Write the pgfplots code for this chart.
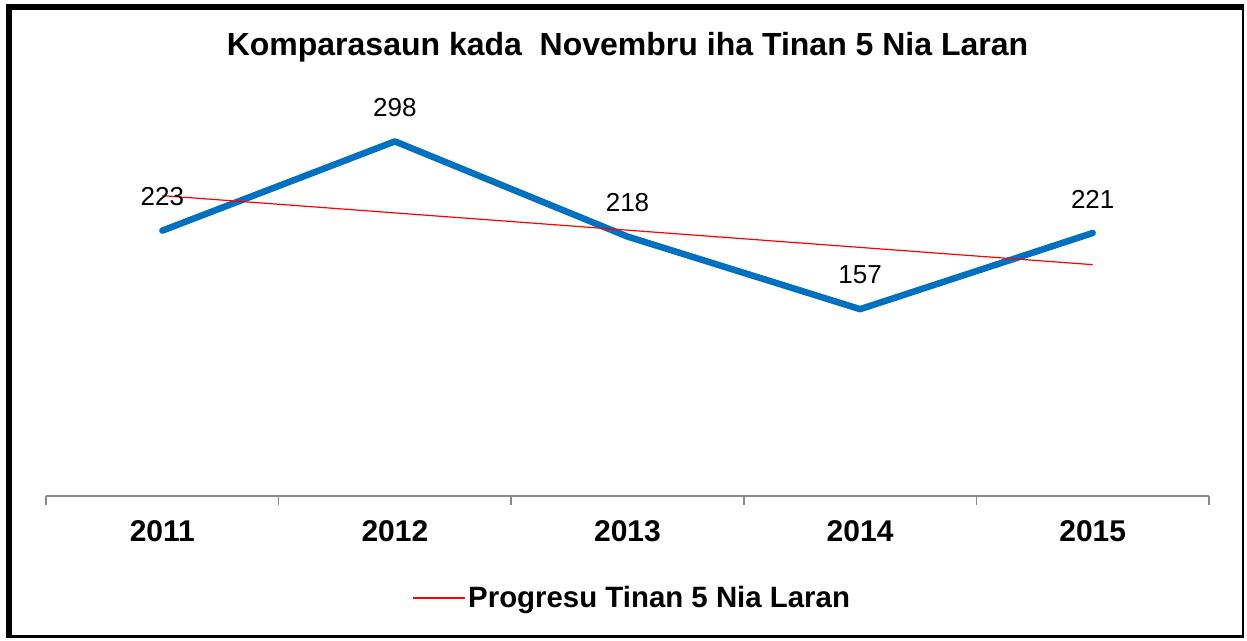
\documentclass[border=0pt]{standalone}
\usepackage{pgfplots}
\pgfplotsset{compat=1.18}
\usepackage{fontspec}
\setmainfont{Liberation Sans}
\definecolor{blueline}{HTML}{0070C0}
\definecolor{axgray}{HTML}{898989}
\begin{document}
\begin{tikzpicture}
\begin{axis}[
  at={(0,0)}, anchor=south west,
  scale only axis, width=581.5pt, height=208.25pt,
  xmin=0.5, xmax=5.5, ymin=0, ymax=350,
  axis x line*=bottom, axis y line=none,
  x axis line style={draw=axgray, line width=0.8pt},
  xtick={1,2,3,4,5}, xticklabels={2011,2012,2013,2014,2015},
  major tick length=0pt,
  minor xtick={0.5,1.5,2.5,3.5,4.5,5.5},
  minor tick style={draw=axgray, line width=0.8pt},
  minor tick length=4.5pt,
  tick align=outside,
  ytick=\empty,
  xticklabel style={font=\fontsize{15}{18}\selectfont\bfseries, anchor=center, yshift=-17.5pt},
  title={Komparasaun kada\ \ Novembru iha Tinan 5 Nia Laran},
  title style={font=\fontsize{16}{19}\selectfont\bfseries, at={(0.5,1)}, anchor=center, yshift=10.25pt},
  legend style={at={(0.5,0)}, anchor=center, yshift=-51pt, xshift=2.5pt, draw=none,
    font=\fontsize{14.7}{17}\selectfont\bfseries, nodes={inner sep=1.5pt}},
  legend cell align=left,
  legend image code/.code={\draw[#1] (0pt,0pt) -- (26pt,0pt);},
  /pgf/number format/assume math mode=true,
  clip=false,
]
\addplot[blueline, line width=3.25pt, line cap=round, line join=round,
  nodes near coords,
  every node near coord/.style={font=\fontsize{13}{15}\selectfont, anchor=center, yshift=17pt, black},
  forget plot] coordinates {(1,223) (2,298) (3,218) (4,157) (5,221)};
\addplot[red, line width=0.6pt] coordinates {(1,252.4) (5,194.4)};
\addlegendentry{Progresu Tinan 5 Nia Laran}
\end{axis}
\begin{scope}[shift={(current axis.south west)}]
\path (-23pt,-71.5pt) rectangle (600.5pt,248pt);
\draw[line width=3pt] (-18.5pt,-71pt) -- (-18.5pt,244.5pt) -- (599pt,244.5pt);
\draw[line width=1.2pt] (598.5pt,244.5pt) -- (598.5pt,-70.25pt) -- (-18.5pt,-70.25pt);
\end{scope}
\end{tikzpicture}
\end{document}
